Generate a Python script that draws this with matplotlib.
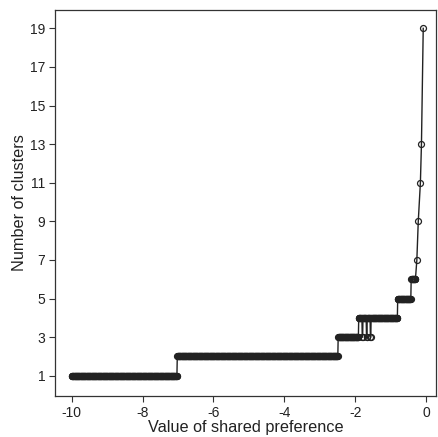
import numpy as np
import matplotlib.pyplot as plt

plt.rcParams['font.family'] = ['Liberation Sans', 'DejaVu Sans']
plt.rcParams['axes.unicode_minus'] = False

# Niveles de clusters (función escalón)
level_start = [-10.0, -7.02, -2.48, -1.90, -0.80, -0.42]
level_value = [1, 2, 3, 4, 5, 6]
dense_end = -0.30
# caídas puntuales a 3 clusters dentro del tramo de 4
dip_x = [-1.80, -1.79, -1.68, -1.67, -1.57, -1.56]
dip_value = 3
# últimos puntos (escasos) cerca de 0
tail_x = [-0.26, -0.22, -0.16, -0.13, -0.08]
tail_y = [7, 9, 11, 13, 19]

# valores de preferencia evaluados
pref = np.round(np.arange(-10.0, dense_end + 0.001, 0.01), 2)
idx = np.searchsorted(level_start, pref, side='right') - 1
n_clusters = np.array(level_value)[idx]
n_clusters[np.isin(pref, dip_x)] = dip_value

x = np.concatenate([pref, tail_x])
y = np.concatenate([n_clusters, tail_y])

fig = plt.figure(figsize=(4.38, 4.37), dpi=100)
ax = fig.add_axes([0.1256, 0.0938, 0.8698, 0.8833])
ax.plot(x, y, color='#222222', lw=1.0, marker='o', ms=4.3,
        mfc='none', mec='#222222', mew=0.9)
ax.set_xlim(-10.47, 0.28)
ax.set_ylim(-0.05, 19.95)
ax.set_xticks([-10, -8, -6, -4, -2, 0])
ax.set_yticks(range(1, 20, 2))
ax.tick_params(labelsize=10, length=4, width=0.8, colors='#333333',
               labelcolor='#222222', pad=3)
for s in ax.spines.values():
    s.set_linewidth(0.9)
    s.set_color('#333333')
ax.set_xlabel('Value of shared preference', fontsize=11.7, labelpad=0, color='#222222')
ax.set_ylabel('Number of clusters', fontsize=11.7, labelpad=2, color='#222222')
fig.savefig('out.png', dpi=100)
